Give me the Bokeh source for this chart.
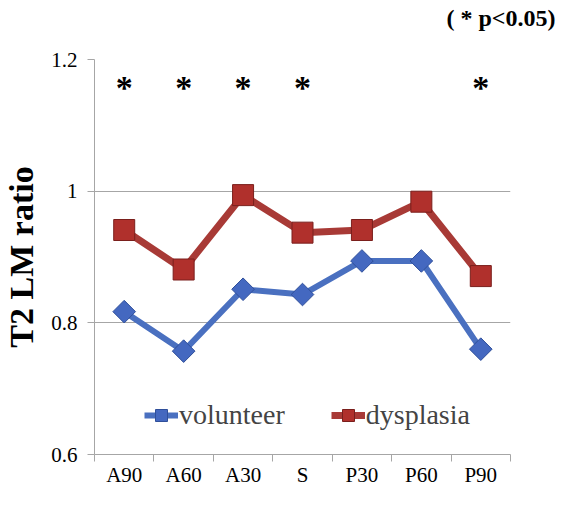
from bokeh.plotting import figure
from bokeh.models import (Range1d, FixedTicker, CustomJSTickFormatter, Legend, LegendItem)
from bokeh.core.properties import value
from bokeh.embed import file_html
from bokeh.resources import INLINE
import math

categories = ["A90", "A60", "A30", "S", "P30", "P60", "P90"]
volunteer = [0.817, 0.757, 0.851, 0.843, 0.894, 0.894, 0.760]
dysplasia = [0.941, 0.881, 0.994, 0.937, 0.941, 0.984, 0.871]
significant = [True, True, True, True, False, False, True]
y_ticks = [0.6, 0.8, 1.0, 1.2]

xs = [i + 0.5 for i in range(len(categories))]

SERIF = "Liberation Serif"
GRAY = "#a6a6a6"
BLUE = "#4a70c0"
RED = "#a83a36"

p = figure(width=557, height=489, output_backend="svg", toolbar_location=None,
           x_range=Range1d(0, len(categories)), y_range=Range1d(0.6, 1.2),
           min_border_left=85, min_border_right=47, min_border_top=59, min_border_bottom=30)
p.outline_line_color = None
p.background_fill_color = "white"
p.border_fill_color = "white"

p.title.text = "( * p<0.05)\n "
p.title.align = "right"
p.title.vertical_align = "top"
p.title.offset = -45
p.title.padding = 0
p.title.text_font = SERIF
p.title.text_font_style = "bold"
p.title.text_font_size = "24px"
p.title.text_color = "black"
p.title.standoff = 2

# axes
xa = p.xaxis[0]
xa.ticker = FixedTicker(ticks=xs, minor_ticks=list(range(len(categories) + 1)))
xa.formatter = CustomJSTickFormatter(args=dict(cats=categories), code="return cats[Math.floor(tick)];")
xa.major_tick_out = 0
xa.major_tick_in = 0
xa.minor_tick_out = 7
xa.minor_tick_in = 0
xa.minor_tick_line_color = GRAY
xa.axis_line_color = GRAY
xa.major_label_text_font = SERIF
xa.major_label_text_font_size = "21px"
xa.major_label_text_color = "black"
xa.major_label_standoff = 1

ya = p.yaxis[0]
ya.ticker = FixedTicker(ticks=y_ticks, minor_ticks=[])
ya.formatter = CustomJSTickFormatter(code="return String(Math.round(tick*10)/10);")
ya.major_tick_out = 7
ya.major_tick_in = 0
ya.minor_tick_out = 0
ya.major_tick_line_color = GRAY
ya.axis_line_color = GRAY
ya.major_label_text_font = SERIF
ya.major_label_text_font_size = "21px"
ya.major_label_text_color = "black"
ya.major_label_standoff = 10
ya.axis_label = "T2 LM ratio"
ya.axis_label_text_font = SERIF
ya.axis_label_text_font_style = "bold"
ya.axis_label_text_font_size = "34px"
ya.axis_label_text_color = "black"
ya.axis_label_standoff = 8

p.xgrid.visible = False
p.ygrid.grid_line_color = GRAY
p.ygrid.grid_line_width = 1

# series
bl = p.line(xs, volunteer, line_color=BLUE, line_width=6)
bs = p.scatter(xs, volunteer, marker="square", size=16, angle=math.pi / 4,
               fill_color="#4468c0", line_color="#2f4f9a", line_width=1)
rl = p.line(xs, dysplasia, line_color=RED, line_width=7)
rs = p.scatter(xs, dysplasia, marker="square", size=21,
               fill_color="#b0302c", line_color="#7a1f1c", line_width=1)

# significance stars
star_x = [x for x, s in zip(xs, significant) if s]
p.text(star_x, [1.158] * len(star_x), text=["*"] * len(star_x),
       text_font=value(SERIF), text_font_style="bold", text_font_size="34px",
       text_align="center", text_baseline="middle", text_color="black")

legend = Legend(items=[LegendItem(label="volunteer", renderers=[bl, bs]),
                       LegendItem(label="dysplasia", renderers=[rl, rs])],
                orientation="horizontal", location=(50, 23),
                label_text_font=SERIF, label_text_font_size="28px",
                glyph_width=34, glyph_height=30, label_standoff=1, spacing=46,
                padding=0, margin=0, background_fill_alpha=0, border_line_alpha=0)
p.add_layout(legend)

open("out.html", "w").write(file_html(p, INLINE))
